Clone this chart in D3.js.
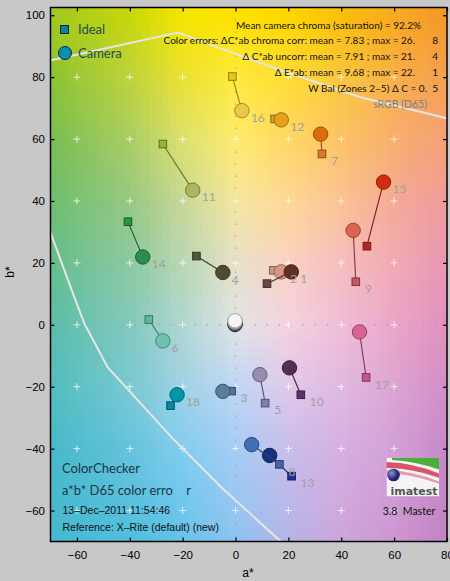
<!DOCTYPE html>
<html>
<head>
<meta charset="utf-8">
<script src="https://cdn.jsdelivr.net/npm/d3@7"></script>
<style>
  body { margin: 0; background: #c8c8c8; }
  svg { display: block; }
</style>
</head>
<body>
<div id="chart"></div>
<script>
const width = 450;
const height = 581;

// patch numbers, ideal (square) and camera (circle) a*b* positions
const patches = [1, 2, 3, 4, 5, 6, 7, 8, 9, 10, 11, 12, 13, 14, 15, 16, 17, 18, 19, 20, 21, 22, 23, 24];
const idealA = [11.9, 14.3, -1.5, -14.8, 11.2, -32.8, 32.7, 16.6, 45.5, 24.7, -27.5, 14.8, 21.2, -40.7, 49.7, -1.2, 49.4, -24.6, -0.3, -0.3, -0.2, -0.2, -0.2, -0.2];
const idealB = [13.3, 17.6, -21.4, 22.2, -25.3, 1.7, 55.2, -45.1, 13.9, -22.6, 58.4, 66.5, -48.9, 33.3, 25.4, 80.2, -17.0, -26.1, 0.3, 0.3, 0.2, 0.2, 0.2, 0.2];
const camA = [21.1, 17.3, -4.8, -4.8, 9.2, -27.5, 32.2, 6.1, 44.5, 20.4, -16.2, 17.3, 12.9, -35.1, 56.0, 2.4, 46.9, -22.1, -0.2, -0.2, -0.2, -0.2, -0.2, -0.2];
const camB = [17.1, 17.1, -21.5, 16.9, -16.1, -5.2, 61.6, -38.7, 30.5, -13.9, 43.5, 66.2, -42.2, 21.9, 46.1, 69.2, -2.3, -22.6, 1.3, 1.0, 0.8, 0.5, 0.3, 0.1];
const idealColors = ["#694b41", "#cd967d", "#50739f", "#505a3c", "#827daf", "#5ab9a0", "#e17832", "#4b5faa", "#c8555f", "#5a3269", "#91b43c", "#dca028", "#1e328c", "#289641", "#b92328", "#e6c814", "#c35591", "#0a87a5", "#f2f2f2", "#c8c8c8", "#a0a0a0", "#787878", "#555555", "#323232"];
const camColors = ["#5f3223", "#d79682", "#5a7d9b", "#504b32", "#968caf", "#6ec3af", "#dc6e0a", "#416eb4", "#dc6450", "#552d55", "#afb45f", "#e6a01e", "#143282", "#2d8c50", "#d22d0f", "#ebc846", "#d76491", "#0096aa", "#f5f5f5", "#d2d2d2", "#a5a5a5", "#787878", "#555555", "#323232"];
const labelled = 18;

const xTicks = [-60, -40, -20, 0, 20, 40, 60, 80];
const yTicks = [-60, -40, -20, 0, 20, 40, 60, 80, 100];
const gridA = [-60, -40, -20, 0, 20, 40, 60];
const gridB = [-60, -40, -20, 0, 20, 40, 60, 80];

// sRGB gamut outline
const gamutTopA = [-70.2, -21.8, -7.3, 16.6, 46.9, 79.5, 81];
const gamutTopB = [85.4, 94.4, 89.8, 82.4, 73.6, 66.8, 66.5];
const gamutLowA = [-70.5, -62.9, -57.2, -48.4, -23.8, -4.9, 17.8];
const gamutLowB = [31, 13.3, 0.4, -13.7, -36.7, -52.9, -70.5];

const statLines = [
  ["Mean camera chroma (saturation) = 92.2%", ""],
  ["Color errors:  \u0394C*ab chroma corr:  mean = 7.83 ;  max = 26.", "8"],
  ["\u0394 C*ab uncorr:  mean = 7.91 ;  max = 21.", "4"],
  ["\u0394 E*ab:  mean = 9.68 ;  max = 22.", "1"],
  ["W Bal (Zones 2\u20135) \u0394 C = 0.", "5"]
];

// background palette sampled on an a*/b* lattice (rows: b from top)
const paletteA = [-70, -40, -20, 0, 20, 40, 60, 80];
const paletteB = [100, 80, 60, 40, 20, 0, -20, -40, -70];
const palette = [
  ["#a0c81e", "#c8d70a", "#f5e600", "#ffe100", "#ffd700", "#fbbe0a", "#f8aa1e", "#f59628"],
  ["#8cc332", "#bed23c", "#ebe132", "#ffeb3c", "#ffdc32", "#fac83c", "#f9af46", "#f5a050"],
  ["#78be50", "#aacd64", "#dce16e", "#ffeb6e", "#ffd764", "#fcc364", "#f8af6e", "#f5a078"],
  ["#6ebe6e", "#96c882", "#c8d796", "#f5e6a0", "#ffd796", "#fac396", "#f5aa96", "#f09b9b"],
  ["#64be8c", "#8cc8a0", "#b9d7b4", "#e6e1c8", "#fad2c3", "#f5bebe", "#f0aab4", "#e896b4"],
  ["#5abeaa", "#82c8be", "#afd7d2", "#e1e4e6", "#f5d2e1", "#f0bed7", "#eba5c8", "#e191be"],
  ["#50bebe", "#78c8d2", "#a0d2e6", "#bed7f5", "#e1c8eb", "#e1b9e1", "#dca5d2", "#d28cc8"],
  ["#46b9c8", "#64c3dc", "#82cdf0", "#a5cdf5", "#c8beeb", "#d7afe1", "#d2a0d7", "#c887c8"],
  ["#46b9d2", "#50bedc", "#64c3eb", "#8cc3f0", "#b4b4e6", "#cda5dc", "#cd96d2", "#c382c3"]
];

const x = d3.scaleLinear().domain([-70, 80]).range([50.5, 447]);
const y = d3.scaleLinear().domain([-70, 102.5]).range([541.5, 7.5]);

const svg = d3.select("#chart").append("svg").attr("width", width).attr("height", height);
svg.append("rect").attr("width", width).attr("height", height).attr("fill", "#c8c8c8");

svg.append("clipPath").attr("id", "plot")
  .append("rect").attr("x", x(-70)).attr("y", y(102.5))
  .attr("width", x(80) - x(-70)).attr("height", y(-70) - y(102.5));

const plot = svg.append("g").attr("clip-path", "url(#plot)");

// background a*b* colour field
function fieldColor(a, b) {
  b = Math.max(-70, Math.min(100, b));
  let i = d3.bisectRight(paletteA, a) - 1;
  i = Math.max(0, Math.min(paletteA.length - 2, i));
  let j = 0;
  while (j < paletteB.length - 2 && b < paletteB[j + 1]) j++;
  const ta = (a - paletteA[i]) / (paletteA[i + 1] - paletteA[i]);
  const tb = (paletteB[j] - b) / (paletteB[j] - paletteB[j + 1]);
  const top = d3.interpolateRgb(palette[j][i], palette[j][i + 1])(ta);
  const bot = d3.interpolateRgb(palette[j + 1][i], palette[j + 1][i + 1])(ta);
  return d3.interpolateRgb(top, bot)(tb);
}
const step = 2.5;
const cells = [];
for (let a = -70; a < 80; a += step) {
  for (let b = -70; b < 102.5; b += step) cells.push([a, b]);
}
plot.append("g").selectAll("rect")
  .data(cells)
  .join("rect")
  .attr("x", d => x(d[0]))
  .attr("y", d => y(d[1] + step))
  .attr("width", x(step) - x(0) + 0.5)
  .attr("height", y(0) - y(step) + 0.5)
  .attr("fill", d => fieldColor(d[0] + step / 2, d[1] + step / 2));

// dotted zero lines
plot.append("line").attr("x1", x(0)).attr("x2", x(0)).attr("y1", y(102.5)).attr("y2", y(-70))
  .attr("stroke", "#a0a0a0").attr("stroke-width", 1.3).attr("stroke-dasharray", "1.3,10.7");
plot.append("line").attr("x1", x(-70)).attr("x2", x(80)).attr("y1", y(0)).attr("y2", y(0))
  .attr("stroke", "#a0a0a0").attr("stroke-width", 1.3).attr("stroke-dasharray", "1.3,10.7");

// grid crosses
const crosses = [];
gridA.forEach(a => gridB.forEach(b => crosses.push([a, b])));
plot.append("g").selectAll("path")
  .data(crosses)
  .join("path")
  .attr("d", d => `M${x(d[0]) - 3.5},${y(d[1])}h7M${x(d[0])},${y(d[1]) - 3.5}v7`)
  .attr("stroke", "rgba(255,255,255,0.75)")
  .attr("stroke-width", 1);

// gamut boundary
const gLine = d3.line().x(d => x(d[0])).y(d => y(d[1]));
plot.append("path").datum(d3.zip(gamutTopA, gamutTopB)).attr("d", gLine)
  .attr("fill", "none").attr("stroke", "#e6e6e6").attr("stroke-width", 2);
plot.append("path").datum(d3.zip(gamutLowA, gamutLowB)).attr("d", gLine)
  .attr("fill", "none").attr("stroke", "#e6e6e6").attr("stroke-width", 2);

// patches
const rows = patches.map((p, i) => ({
  p, ia: idealA[i], ib: idealB[i], ca: camA[i], cb: camB[i],
  ic: idealColors[i], cc: camColors[i]
})).reverse();

const marks = plot.append("g");
rows.forEach(d => {
  const g = marks.append("g");
  g.append("line")
    .attr("x1", x(d.ia)).attr("y1", y(d.ib)).attr("x2", x(d.ca)).attr("y2", y(d.cb))
    .attr("stroke", d3.color(d.ic).darker(1.2)).attr("stroke-width", 1.1);
  g.append("rect")
    .attr("x", x(d.ia) - 3.8).attr("y", y(d.ib) - 3.8)
    .attr("width", 7.6).attr("height", 7.6)
    .attr("fill", d.ic).attr("stroke", d3.color(d.ic).darker(1.3)).attr("stroke-width", 1);
  g.append("circle")
    .attr("cx", x(d.ca)).attr("cy", y(d.cb)).attr("r", 7.2)
    .attr("fill", d.cc).attr("stroke", d3.color(d.cc).darker(1.1)).attr("stroke-width", 1);
});

// patch numbers beside the rightmost marker of each pair
plot.append("g").selectAll("text")
  .data(rows.filter(d => d.p <= labelled))
  .join("text")
  .attr("x", d => x(Math.max(d.ia, d.ca)) + 9)
  .attr("y", d => (d.ia > d.ca ? y(d.ib) : y(d.cb)) + 7)
  .attr("dy", "0.35em")
  .style("font-family", "Lato, sans-serif")
  .style("font-size", "12px")
  .style("fill", "#a0a0a0")
  .text(d => d.p);

// axes
const axisFont = g => g.selectAll("text")
  .style("font-family", "'Liberation Sans', Arial, sans-serif")
  .style("font-size", "11.5px").style("fill", "#000");
const axisLines = g => {
  g.select(".domain").remove();
  g.selectAll(".tick line").attr("stroke", "#000").attr("stroke-width", 1.2);
};

svg.append("g").attr("transform", `translate(0,${y(-70)})`)
  .call(d3.axisBottom(x).tickValues(xTicks).tickSizeInner(-4).tickSizeOuter(0).tickPadding(9))
  .call(axisFont).call(axisLines);
svg.append("g").attr("transform", `translate(0,${y(102.5)})`)
  .call(d3.axisTop(x).tickValues(xTicks).tickSizeInner(-4).tickSizeOuter(0).tickFormat(""))
  .call(axisLines);
svg.append("g").attr("transform", `translate(${x(-70)},0)`)
  .call(d3.axisLeft(y).tickValues(yTicks).tickSizeInner(-4).tickSizeOuter(0).tickPadding(5.5))
  .call(axisFont).call(axisLines);
svg.append("g").attr("transform", `translate(${x(80)},0)`)
  .call(d3.axisRight(y).tickValues(yTicks).tickSizeInner(-4).tickSizeOuter(0).tickFormat(""))
  .call(axisLines);

svg.append("rect")
  .attr("x", x(-70)).attr("y", y(102.5))
  .attr("width", x(80) - x(-70)).attr("height", y(-70) - y(102.5))
  .attr("fill", "none").attr("stroke", "#000").attr("stroke-width", 1.5);

svg.append("text").attr("x", 248).attr("y", 577)
  .attr("text-anchor", "middle")
  .style("font-family", "'Liberation Sans', Arial, sans-serif").style("font-size", "12px")
  .text("a*");
svg.append("text").attr("transform", "translate(14,272) rotate(-90)")
  .attr("text-anchor", "middle")
  .style("font-family", "'Liberation Sans', Arial, sans-serif").style("font-size", "12px")
  .text("b*");

// legend
const legendColor = "#1e4b55";
svg.append("rect").attr("x", 60.5).attr("y", 25.5).attr("width", 8).attr("height", 8)
  .attr("fill", "#0e7fa0").attr("stroke", "#0a2a35").attr("stroke-width", 1);
svg.append("circle").attr("cx", 65).attr("cy", 53).attr("r", 6.5)
  .attr("fill", "#0a8fb0").attr("stroke", "#0a2a35").attr("stroke-width", 1);
svg.append("text").attr("x", 78).attr("y", 29.5).attr("dy", "0.35em")
  .style("font-family", "Lato, sans-serif").style("font-size", "13px").style("fill", legendColor)
  .text("Ideal");
svg.append("text").attr("x", 78).attr("y", 53.5).attr("dy", "0.35em")
  .style("font-family", "Lato, sans-serif").style("font-size", "13px").style("fill", legendColor)
  .text("Camera");

// statistics block
const stats = svg.append("g")
  .style("font-family", "Lato, sans-serif").style("font-size", "10px").style("fill", "#111")
  .style("white-space", "pre");
const statY = [25, 40.7, 56.2, 72, 88.3];
statLines.forEach((s, i) => {
  stats.append("text").attr("x", i === 0 ? 421 : (i === 4 ? 427 : 415)).attr("y", statY[i]).attr("dy", "0.35em")
    .attr("text-anchor", "end").text(s[0]);
  if (s[1]) stats.append("text").attr("x", 438).attr("y", statY[i]).attr("dy", "0.35em")
    .attr("text-anchor", "end").text(s[1]);
});
svg.append("text").attr("x", 427).attr("y", 104.3).attr("dy", "0.35em")
  .attr("text-anchor", "end")
  .style("font-family", "Lato, sans-serif").style("font-size", "10.5px").style("fill", "#7a8288")
  .text("sRGB (D65)");

// bottom-left titles
const titleColor = "#1e3446";
svg.append("text").attr("x", 62).attr("y", 468.3).attr("dy", "0.35em")
  .style("font-family", "Lato, sans-serif").style("font-size", "13px").style("fill", titleColor)
  .text("ColorChecker");
svg.append("text").attr("x", 62).attr("y", 490).attr("dy", "0.35em")
  .style("font-family", "Lato, sans-serif").style("font-size", "13px").style("fill", titleColor)
  .style("white-space", "pre")
  .text("a*b* D65 color erro    r");
svg.append("text").attr("x", 62.5).attr("y", 510.7).attr("dy", "0.35em")
  .style("font-family", "'Liberation Sans', Arial, sans-serif").style("font-size", "10.5px").style("fill", "#111")
  .text("13\u2013Dec\u20132011 11:54:46");
svg.append("text").attr("x", 62.5).attr("y", 527.3).attr("dy", "0.35em")
  .style("font-family", "'Liberation Sans', Arial, sans-serif").style("font-size", "10.5px").style("fill", "#111")
  .text("Reference: X\u2013Rite (default) (new)");

// imatest badge
const logo = svg.append("g");
logo.append("clipPath").attr("id", "logoClip")
  .append("rect").attr("x", 386.5).attr("y", 458).attr("width", 52.5).attr("height", 38.5);
const lg = logo.append("g").attr("clip-path", "url(#logoClip)");
lg.append("rect").attr("x", 386.5).attr("y", 458).attr("width", 52.5).attr("height", 38.5).attr("fill", "#f4f4f4");
lg.append("path").attr("d", "M392,458 L440,458 L440,470 Q420,462 392,460 Z").attr("fill", "#4caf3c");
lg.append("path").attr("d", "M386,462 Q415,463 440,474 L440,478 Q412,468 386,468 Z").attr("fill", "#d8556a");
lg.append("path").attr("d", "M386,470 Q414,471 440,482 L440,484 Q412,474 386,473 Z").attr("fill", "#e89aa8");
const ballGrad = logo.append("radialGradient").attr("id", "ball").attr("cx", "0.35").attr("cy", "0.35");
ballGrad.append("stop").attr("offset", "0").attr("stop-color", "#8f8fe0");
ballGrad.append("stop").attr("offset", "1").attr("stop-color", "#23236e");
lg.append("circle").attr("cx", 393.5).attr("cy", 475).attr("r", 6.3).attr("fill", "url(#ball)");
lg.append("text").attr("x", 414).attr("y", 494.5).attr("text-anchor", "middle")
  .style("font-family", "'DejaVu Sans', sans-serif").style("font-size", "11px").style("font-weight", "bold")
  .style("fill", "#555").text("imatest");
svg.append("text").attr("x", 409).attr("y", 511).attr("dy", "0.35em").attr("text-anchor", "middle")
  .style("font-family", "Lato, sans-serif").style("font-size", "10.5px").style("fill", "#111")
  .style("white-space", "pre")
  .text("3.8  Master");
</script>
</body>
</html>
